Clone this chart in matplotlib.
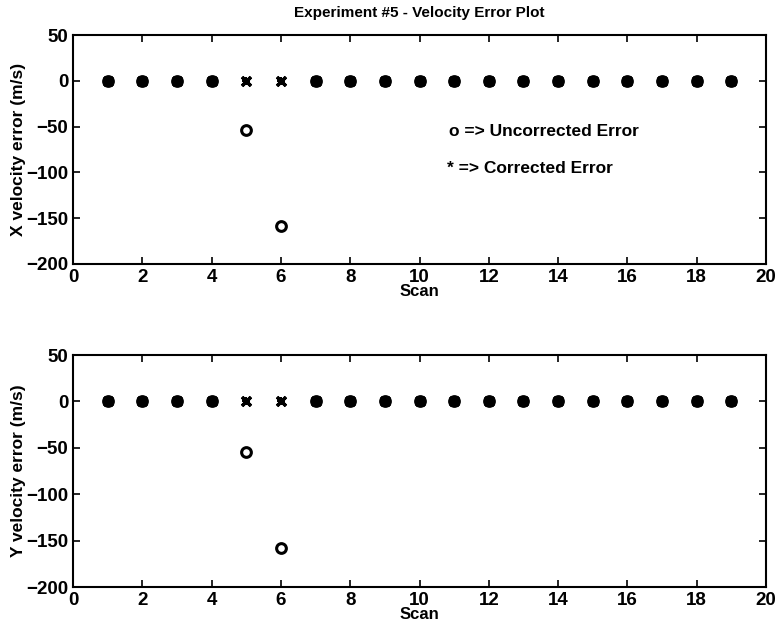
import numpy as np
import matplotlib.pyplot as plt

plt.rcParams['font.family'] = ['Liberation Sans', 'DejaVu Sans']
plt.rcParams['font.weight'] = 'bold'

# Data
scan = np.arange(1, 20)
x_uncorrected = [0, 0, 0, 0, -54, -159, 0, 0, 0, 0, 0, 0, 0, 0, 0, 0, 0, 0, 0]
x_corrected = [0] * 19
y_uncorrected = [0, 0, 0, 0, -54, -158, 0, 0, 0, 0, 0, 0, 0, 0, 0, 0, 0, 0, 0]
y_corrected = [0] * 19

fig = plt.figure(figsize=(7.81, 6.34), dpi=100)
ax1 = fig.add_axes([73/781, 1 - 264/634, 693/781, 229/634])
ax2 = fig.add_axes([73/781, 1 - 587/634, 693/781, 232/634])

for ax, unc, cor, lab in [(ax1, x_uncorrected, x_corrected, 'X velocity error (m/s)'),
                          (ax2, y_uncorrected, y_corrected, 'Y velocity error (m/s)')]:
    ax.plot(scan, unc, 'o', mfc='none', mec='black', mew=2.2, ms=7, ls='none')
    ax.plot(scan, cor, marker=(4, 2, 45), color='black', mew=2.4, ms=9, ls='none')
    ax.plot(scan, cor, marker=(4, 2, 0), color='black', mew=1.2, ms=6, ls='none')
    ax.set_xlim(0, 20)
    ax.set_ylim(-200, 50)
    ax.set_xticks(np.arange(0, 21, 2))
    ax.set_yticks(np.arange(-200, 51, 50))
    ax.tick_params(direction='in', top=True, right=True, labelsize=13.5, width=1.2, length=5)
    for s in ax.spines.values():
        s.set_linewidth(1.5)
    ax.set_xlabel('Scan', fontsize=12, fontweight='bold', labelpad=-1)
    ax.set_ylabel(lab, fontsize=12.5, fontweight='bold', labelpad=0)

ax1.set_title('Experiment #5 - Velocity Error Plot', fontsize=11, fontweight='bold', pad=13)
ax1.text(10.85, -55, 'o => Uncorrected Error', fontsize=12.5, fontweight='bold', va='center')
ax1.text(10.8, -96, '* => Corrected Error', fontsize=12.5, fontweight='bold', va='center')

fig.savefig('out.png', dpi=100)
